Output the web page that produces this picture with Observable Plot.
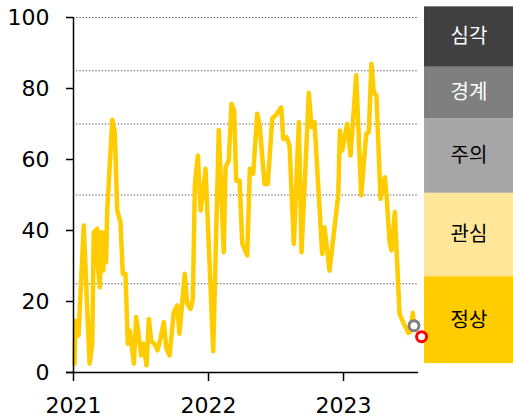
<!DOCTYPE html>
<html><head><meta charset="utf-8">
<script src="https://cdn.jsdelivr.net/npm/d3@7"></script>
<script src="https://cdn.jsdelivr.net/npm/@observablehq/plot@0.6"></script>
<style>body{margin:0;background:#fff} svg{display:block}</style>
</head><body><div id="chart"></div>
<script>
// decimal-year positions and index values
const years = [2021.007,2021.015,2021.037,2021.076,2021.119,2021.139,2021.150,2021.176,2021.181,2021.195,2021.205,2021.220,2021.232,2021.241,2021.250,2021.287,2021.306,2021.324,2021.348,2021.365,2021.385,2021.402,2021.417,2021.430,2021.447,2021.464,2021.481,2021.501,2021.516,2021.541,2021.558,2021.576,2021.607,2021.622,2021.644,2021.669,2021.687,2021.711,2021.743,2021.768,2021.785,2021.824,2021.842,2021.867,2021.884,2021.899,2021.921,2021.941,2021.958,2021.978,2022.035,2022.076,2022.113,2022.126,2022.150,2022.170,2022.190,2022.205,2022.230,2022.250,2022.287,2022.306,2022.331,2022.361,2022.380,2022.415,2022.439,2022.472,2022.496,2022.539,2022.553,2022.578,2022.600,2022.632,2022.669,2022.689,2022.743,2022.763,2022.785,2022.842,2022.859,2022.896,2022.961,2022.973,2022.990,2023.027,2023.052,2023.094,2023.131,2023.168,2023.187,2023.207,2023.224,2023.244,2023.274,2023.306,2023.319,2023.341,2023.356,2023.380,2023.415,2023.447,2023.479,2023.496,2023.513,2023.522];
const values = [2.5,14.6,10.4,41.4,2.5,8,39.5,40.5,29.7,24,39.5,28.7,39.5,31,45.6,71.2,67.7,45.6,42.3,27.8,27.8,8.1,11.8,8,2.5,15.6,11,4.8,8.1,2,15.1,9,7.6,6.2,9.5,14.2,7.1,4.8,17,18.9,10.9,27.8,19.4,17.9,20.8,53.1,61.1,45.6,50.3,57.4,6,68.3,33.9,57.8,59.7,75.7,73.8,54,54,36.3,33,57.4,56,72.9,69.1,53.1,53.1,71.5,72.4,74.7,65.8,66.3,63.9,36.2,70.5,33.9,78.7,69.1,70.5,33.4,40.9,28.7,49.9,68.2,62.5,70,61.1,83.7,49.9,67.2,67.7,87,79,78,48.9,55,49.9,36.7,34.4,45.2,16.5,13.7,11.2,11.4,16.8,13.2];
const latestYear = 2023.578, latestValue = 10.1;

const bandNames = ["정상","관심","주의","경계","심각"];
const bandLow   = [2.5, 27, 50.5, 71.5, 86];
const bandHigh  = [27, 50.5, 71.5, 86, 103];
const bandFill  = ["#ffcc00","#ffe699","#a6a6a6","#7f7f7f","#404040"];
const bandInk   = ["#000","#000","#000","#fff","#fff"];
const gridValues = [25,50,70,85,100];
const yTicks = [0,20,40,60,80,100];
const xTicks = [2021,2022,2023];
const xStart = 2021, plotEnd = 2023.556, panelStart = 2023.6, panelEnd = 2024.259;

const series = years.map((y,i)=>({year:y, value:values[i]}));
const bands = bandNames.map((n,i)=>({name:n, lo:bandLow[i], hi:bandHigh[i], fill:bandFill[i], ink:bandInk[i], x1:panelStart, x2:panelEnd}));
const last = series[series.length-1];

const chart = Plot.plot({
  width: 513, height: 418,
  marginLeft: 73, marginRight: 0, marginTop: 17, marginBottom: 46,
  x: {type:"linear", domain:[xStart, panelEnd]},
  y: {domain:[0,100]},
  style: {fontFamily:"DejaVu Sans, Verdana, sans-serif", background:"#fff"},
  marks: [
    Plot.ruleY(gridValues, {x1: xStart, x2: plotEnd, stroke:"#444", strokeWidth:1, strokeDasharray:"1.2,2"}),
    Plot.rect(bands, {x1:"x1", x2:"x2", y1:"lo", y2:"hi", fill:"fill"}),
    Plot.text(bands, {x: d => (d.x1+d.x2)/2, y: d => (d.lo+d.hi)/2, text:"name", fill:"ink", fontSize:20, fontFamily:"Noto Sans CJK KR, sans-serif"}),
    Plot.line(series, {x:"year", y:"value", stroke:"#ffcc00", strokeWidth:4.5, strokeLinejoin:"round"}),
    Plot.dot([last], {x:"year", y:"value", r:5, stroke:"#7f7f7f", strokeWidth:3, fill:"#fff"}),
    Plot.dot([{year:latestYear, value:latestValue}], {x:"year", y:"value", r:5, stroke:"#ff0000", strokeWidth:3, fill:"#fff"}),
    Plot.ruleX([xStart], {y1:0, y2:100, stroke:"#000", strokeWidth:1.5}),
    Plot.ruleY([0], {x1: xStart - 7/135, x2: plotEnd, stroke:"#000", strokeWidth:1.5}),
    Plot.axisY({ticks: yTicks, tickSize:7, tickPadding:17, fontSize:22, fill:"#000", stroke:"#000", strokeWidth:1.5}),
    Plot.axisX({ticks: xTicks, tickFormat: d => String(d), tickSize:9, tickPadding:16, fontSize:22, fill:"#000", stroke:"#000", strokeWidth:1.5})
  ]
});
document.getElementById("chart").appendChild(chart);
</script></body></html>
